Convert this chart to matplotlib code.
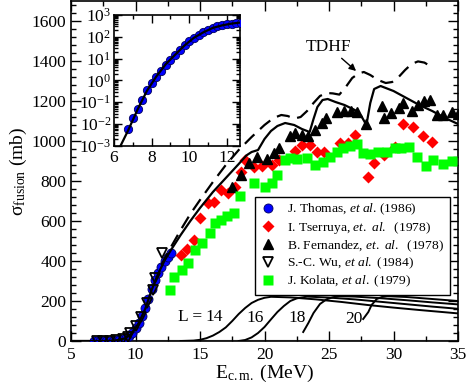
import matplotlib
matplotlib.use('Agg')
import matplotlib.pyplot as plt
from matplotlib.ticker import MultipleLocator, LogLocator, NullFormatter

plt.rcParams['font.family'] = 'Liberation Serif'
plt.rcParams['mathtext.fontset'] = 'custom'
plt.rcParams['mathtext.rm'] = 'Liberation Serif'
plt.rcParams['mathtext.it'] = 'Liberation Serif:italic'
plt.rcParams['mathtext.default'] = 'rm'

# J. Thomas et al. (1986)
thomas_E = [6.75, 7.0, 7.25, 7.5, 7.75, 8.0, 8.25, 8.5, 8.75, 9.0, 9.25, 9.5, 9.75,
            10.0, 10.25, 10.5, 10.75, 11.0, 11.25, 11.5, 11.75, 12.0, 12.25, 12.5, 12.75]
thomas_sig = [0.0056, 0.019, 0.05, 0.13, 0.35, 0.75, 1.4, 2.8, 5.0, 9.0, 15, 25, 42,
              65, 92, 125, 165, 210, 260, 305, 342, 372, 398, 420, 438]

# S.-C. Wu et al. (1984)
wu_E = [7.0, 7.5, 8.0, 8.5, 9.0, 9.4, 9.6, 10.0, 10.45, 10.9, 11.35, 11.55, 12.05]
wu_sig = [0.3, 0.6, 1.5, 4, 10, 22, 38, 75, 122, 192, 255, 313, 438]

# I. Tserruya et al. (1978)
tser_E = [13.5, 14.0, 14.5, 15.0, 15.6, 16.1, 16.6, 17.2, 17.7, 18.2, 18.5, 19.2, 19.8,
          20.6, 21.1, 22.4, 22.9, 23.5, 24.05, 24.6, 25.85, 26.5, 27.0, 28.05, 28.5,
          29.3, 30.1, 30.75, 31.5, 32.25, 33.0]
tser_sig = [430, 460, 505, 615, 688, 697, 755, 738, 772, 845, 905, 870, 875,
            880, 905, 952, 980, 980, 947, 947, 990, 988, 1030, 822, 892,
            930, 972, 1085, 1068, 1025, 997]

# B. Fernandez et al. (1978)
fern_E = [17.5, 18.2, 18.8, 19.4, 20.2, 20.7, 21.1, 22.0, 22.4, 22.9, 23.4, 23.9, 24.45,
          24.8, 25.6, 26.2, 26.7, 27.2, 27.9, 29.1, 29.3, 29.8, 30.4, 30.75, 31.4, 31.9,
          32.4, 32.8, 33.35, 33.85, 34.5, 35.0]
fern_sig = [770, 828, 888, 922, 908, 938, 963, 1025, 1038, 1030, 1025, 1055, 1088,
            1113, 1147, 1150, 1150, 1145, 1085, 1175, 1115, 1140, 1165, 1190, 1150, 1180,
            1200, 1205, 1128, 1128, 1145, 1137]

# J. Kolata et al. (1979)
kol_E = [12.66, 12.97, 13.6, 14.05, 14.65, 15.16, 15.75, 16.19, 16.63, 17.1, 17.6, 18.1,
         19.15, 20.06, 20.58, 20.97, 21.6, 22.0, 22.5, 23.3, 23.9, 24.57, 25.1, 25.6,
         26.1, 26.6, 27.2, 27.66, 28.2, 28.8, 29.5, 30.1, 30.6, 31.2, 31.8, 32.5, 33.1,
         33.85, 34.5]
kol_sig = [255, 318, 355, 392, 455, 488, 538, 588, 605, 625, 638, 725,
           788, 772, 792, 830, 905, 913, 908, 913, 880, 897, 922, 947,
           963, 975, 985, 938, 935, 947, 947, 963, 963, 972, 922, 877, 905,
           885, 902]

# TDHF (solid)
tdhf_E = [5.0, 6.35, 6.75, 7.25, 7.75, 8.25, 8.75, 9.25, 9.75, 10.25, 10.75, 11.25,
          11.75, 12.25, 12.75, 13.5, 14.25, 15.0, 16.0, 17.0, 17.5, 18.0, 18.6, 19.0,
          19.5, 20.0, 20.5, 21.0, 21.6, 22.3, 22.9, 23.5, 23.8, 24.1, 24.5, 24.9, 25.5,
          26.2, 27.0, 27.5, 27.9, 28.2, 28.5, 29.0, 30.0, 31.0, 32.0, 33.0, 34.0, 35.0]
tdhf_sig = [0, 0.001, 0.005, 0.045, 0.33, 1.5, 5.5, 15, 40, 90, 160, 255,
            335, 402, 455, 530, 600, 665, 745, 815, 850, 885, 928, 945,
            955, 1010, 1050, 1075, 1090, 1080, 1060, 1045, 1110, 1170, 1205, 1210, 1195,
            1180, 1155, 1125, 1080, 1190, 1260, 1275, 1250, 1215, 1180, 1150, 1115, 1085]

# dashed curve
dash_E = [12.0, 12.75, 13.5, 14.25, 15.0, 16.0, 17.0, 18.0, 19.0, 20.0, 20.7, 21.3,
          21.8, 22.3, 22.8, 23.3, 23.8, 24.3, 24.8, 25.3, 25.8, 26.3, 26.8, 27.3, 27.7,
          28.2, 28.8, 29.4, 29.9, 30.4, 30.9, 31.4, 31.9, 32.4, 32.9]
dash_sig = [380, 470, 555, 635, 705, 795, 880, 955, 1020, 1080, 1115, 1130,
            1125, 1112, 1120, 1150, 1190, 1225, 1240, 1238, 1232, 1270, 1315, 1338, 1345,
            1330, 1305, 1290, 1295, 1320, 1355, 1385, 1398, 1392, 1372]

# partial-wave contributions
L14_E = [13.5, 14.5, 15.0, 15.5, 16.0, 16.5, 17.0, 17.5, 18.0, 18.5, 19.0, 19.5, 20.0,
         20.5, 22.0, 24.0, 26.0, 28.0, 30.0, 32.0, 35.0]
L14_sig = [0, 2, 6, 14, 27, 45, 68, 100, 135, 165, 190, 206, 216,
           221, 218, 208, 195, 180, 167, 155, 138]
L16_E = [18.0, 18.5, 19.0, 19.5, 20.0, 20.5, 21.0, 21.5, 22.0, 22.5, 23.3, 25.0, 27.0,
         29.0, 31.0, 33.0, 35.0]
L16_sig = [0, 5, 18, 40, 70, 108, 145, 175, 200, 213, 222, 217, 208,
           196, 184, 172, 161]
L18_E = [23.0, 23.4, 23.8, 24.3, 24.8, 25.3, 25.8, 27.0, 29.0, 31.0, 33.0, 35.0]
L18_sig = [45, 90, 140, 185, 208, 219, 224, 222, 214, 204, 193, 183]
L20_E = [27.65, 28.05, 28.3, 28.7, 29.1, 29.5, 31.0, 33.0, 35.0]
L20_sig = [110, 145, 180, 210, 220, 224, 220, 210, 200]

W, H = 469, 386
fig = plt.figure(figsize=(W / 100, H / 100), dpi=100)
ax = fig.add_axes([71 / W, 45 / H, 387 / W, 340 / H])

ax.axhline(0, color='0.6', lw=1.6, zorder=1)

ax.plot(thomas_E, thomas_sig, 'o', color='#0000ff', mec='#00005a', mew=0.6, ms=6.5,
        label=r'J. Thomas, $\mathit{et\ al}$. (1986)', zorder=3)
ax.plot(tser_E, tser_sig, 'D', color='#ff0000', mec='none', ms=6.3,
        label=r'I. Tserruya, $\mathit{et.\ al.}$  (1978)', zorder=3)
ax.plot(fern_E, fern_sig, '^', color='black', ms=7,
        label=r'B. Fernandez, $\mathit{et.\ al.}$  (1978)', zorder=3)
ax.plot(wu_E, wu_sig, 'v', mfc='none', mec='black', mew=1.3, ms=7,
        label=r'S.-C. Wu, $\mathit{et\ al.}$ (1984)', zorder=4)
ax.plot(kol_E, kol_sig, 's', color='#00ff00', mec='none', ms=6.5,
        label=r'J. Kolata, $\mathit{et\ al.}$ (1979)', zorder=3)

ax.plot(tdhf_E, tdhf_sig, '-', color='black', lw=1.6, zorder=5)
ax.plot(dash_E, dash_sig, '--', color='black', lw=1.6, dashes=(6, 3.5), zorder=5)
for e, s in [(L14_E, L14_sig), (L16_E, L16_sig), (L18_E, L18_sig), (L20_E, L20_sig)]:
    ax.plot(e, s, '-', color='black', lw=1.4, zorder=5)

ax.text(14.2, 122, 'L =', fontsize=12.5, ha='center', va='center')
ax.text(16.1, 122, '14', fontsize=12.5, ha='center', va='center')
ax.text(19.3, 115, '16', fontsize=12.5, ha='center', va='center')
ax.text(22.5, 115, '18', fontsize=12.5, ha='center', va='center')
ax.text(26.9, 108, '20', fontsize=12.5, ha='center', va='center')

ax.annotate('TDHF', xy=(27.1, 1350), xytext=(24.95, 1472), fontsize=12.5,
            ha='center', va='center',
            arrowprops=dict(arrowstyle='-|>', color='black', lw=1,
                            mutation_scale=10, shrinkA=1, shrinkB=0))

ax.set_xlim(5, 35)
ax.set_ylim(0, 1700)
ax.xaxis.set_major_locator(MultipleLocator(5))
ax.xaxis.set_minor_locator(MultipleLocator(2.5))
ax.yaxis.set_major_locator(MultipleLocator(200))
ax.yaxis.set_minor_locator(MultipleLocator(40))
ax.tick_params(which='both', direction='in', top=True, right=True, labelsize=12.5, width=1)
ax.tick_params(which='major', length=7)
ax.tick_params(which='minor', length=3.5)
ax.tick_params(axis='x', pad=4)
for sp in ax.spines.values():
    sp.set_linewidth(1.2)

ax.set_xlabel(r'$\mathrm{E}_{\mathrm{c.m.}}$ (MeV)', fontsize=14, labelpad=0)
ax.set_ylabel(r'$\sigma_{\mathrm{fusion}}$ (mb)', fontsize=14, labelpad=2)

leg = ax.legend(loc='upper left', bbox_to_anchor=(0.475, 0.425), borderaxespad=0,
                fontsize=9.7, numpoints=1, fancybox=False, edgecolor='black',
                framealpha=1, handlelength=1.2, handletextpad=0.8,
                labelspacing=0.18, borderpad=0.4)
leg.get_frame().set_linewidth(1)

# inset: log scale at low energies
ins = fig.add_axes([114 / W, (H - 145.7) / H, 126 / W, 130.7 / H])
ins.plot(thomas_E, thomas_sig, 'o', color='#0000ff', mec='#00005a', mew=0.6, ms=6, zorder=3)
ins.plot(tdhf_E[1:], tdhf_sig[1:], '-', color='black', lw=1.6, zorder=4)
ins.set_yscale('log')
ins.set_xlim(6, 12.7)
ins.set_ylim(1e-3, 1e3)
ins.xaxis.set_major_locator(MultipleLocator(2))
ins.xaxis.set_minor_locator(MultipleLocator(1))
ins.yaxis.set_major_locator(LogLocator(base=10, numticks=10))
ins.yaxis.set_minor_locator(LogLocator(base=10, subs=range(2, 10), numticks=20))
ins.yaxis.set_minor_formatter(NullFormatter())
ins.tick_params(which='both', direction='in', top=True, right=True, labelsize=12.5, width=1)
ins.tick_params(which='major', length=6)
ins.tick_params(which='minor', length=3)
ins.tick_params(axis='y', pad=2)
ins.tick_params(axis='x', pad=3)
for sp in ins.spines.values():
    sp.set_linewidth(1.2)

fig.savefig('out.png', dpi=100)
